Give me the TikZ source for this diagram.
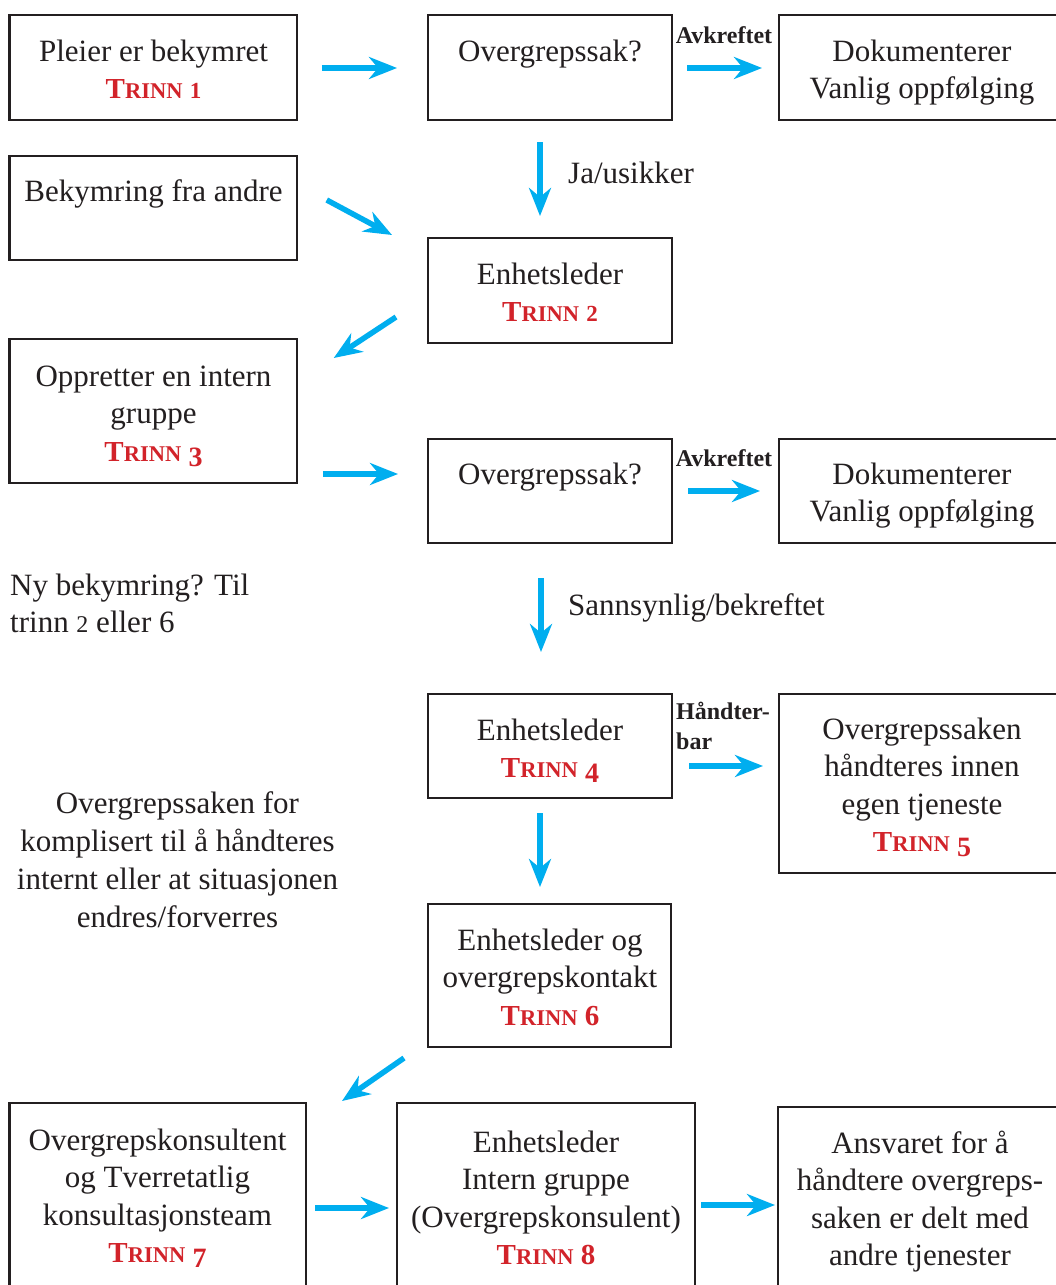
\documentclass[tikz,border=0pt]{standalone}
\usepackage{fontspec}
\setmainfont{Liberation Serif}
\usetikzlibrary{arrows.meta}
\definecolor{txtgray}{HTML}{231F20}
\definecolor{trinnred}{HTML}{D2232A}
\definecolor{arrblue}{HTML}{00AEEF}
\newcommand\fl{\rule{0pt}{26pt}}
% fake small caps "Trinn" with old-style-like digits
\newcommand\trinnword{\bfseries\fontsize{29}{37.5}\selectfont T\fontsize{22.5}{37.5}\selectfont RINN\fontsize{29}{37.5}\selectfont\ }
\newcommand\trinnS[1]{{\color{trinnred}\trinnword{\fontsize{23}{37.5}\selectfont #1}}}
\newcommand\trinnD[1]{{\color{trinnred}\trinnword\raisebox{-5pt}{\fontsize{28}{37.5}\selectfont #1}}}
\newcommand\trinnF[1]{{\color{trinnred}\trinnword{\fontsize{29}{37.5}\selectfont #1}}}
\tikzset{
  box/.style={draw=txtgray, line width=2.7pt, rectangle, inner sep=0pt, outer sep=0pt},
  txt/.style={text=txtgray, align=center, inner sep=0pt, anchor=north, font=\fontsize{31}{37.5}\selectfont},
  lbl/.style={text=txtgray, inner sep=0pt, font=\bfseries\fontsize{24}{30}\selectfont},
  arr/.style={draw=arrblue, line width=5.5pt, -{Stealth[length=28pt, width=22pt, inset=9pt]}}
}
\begin{document}
\begin{tikzpicture}[x=1pt,y=-1pt]
\clip (0,0) rectangle (1056,1285);
\fill[white] (0,0) rectangle (1056,1285);
% boxes
\node[box, minimum width=287.5, minimum height=105] (b1) at (153.25,67.5) {};
\node[box, minimum width=244, minimum height=105] (b2) at (550,67.5) {};
\node[box, minimum width=286, minimum height=105] (b3) at (922,67.5) {};
\node[box, minimum width=287.5, minimum height=104] (b4) at (153.25,208) {};
\node[box, minimum width=244, minimum height=105] (b5) at (550,290.5) {};
\node[box, minimum width=287.5, minimum height=144] (b6) at (153.25,411) {};
\node[box, minimum width=244, minimum height=104] (b7) at (550,491) {};
\node[box, minimum width=286, minimum height=104] (b8) at (922,491) {};
\node[box, minimum width=244, minimum height=104] (b9) at (550,746) {};
\node[box, minimum width=286, minimum height=179] (b10) at (922,783.5) {};
\node[box, minimum width=243, minimum height=143] (b11) at (549.5,975.5) {};
\node[box, minimum width=296.5, minimum height=197] (b12) at (157.75,1201.5) {};
\node[box, minimum width=298, minimum height=197] (b13) at (546,1201.5) {};
\node[box, minimum width=284, minimum height=193] (b14) at (920,1203.5) {};
% texts
\node[txt] (t1) at (153.5,35) {\fl Pleier er bekymret\\\trinnS{1}};
\node[txt] (t2) at (550,35) {\fl Overgrepssak?};
\node[txt] (t3) at (922,35) {\fl Dokumenterer\\Vanlig oppfølging};
\node[txt] (t4) at (153.5,175) {\fl Bekymring fra andre};
\node[txt] (t5) at (550,258) {\fl Enhetsleder\\\trinnS{2}};
\node[txt] (t6) at (153.5,360) {\fl Oppretter en intern\\gruppe\\\trinnD{3}};
\node[txt] (t7) at (550,458) {\fl Overgrepssak?};
\node[txt] (t8) at (922,458) {\fl Dokumenterer\\Vanlig oppfølging};
\node[txt] (t9) at (550,714) {\fl Enhetsleder\\\trinnD{4}};
\node[txt] (t10) at (922,713) {\fl Overgrepssaken\\håndteres innen\\egen tjeneste\\\trinnD{5}};
\node[txt] (t11) at (550,924) {\fl Enhetsleder og\\overgrepskontakt\\\trinnF{6}};
\node[txt] (t12) at (157.5,1124) {\fl Overgrepskonsultent\\og Tverretatlig\\konsultasjonsteam\\\trinnD{7}};
\node[txt] (t13) at (546,1126) {\fl Enhetsleder\\Intern gruppe\\(Overgrepskonsulent)\\\trinnF{8}};
\node[txt] (t14) at (920,1127) {\fl Ansvaret for å\\håndtere overgreps-\\saken er delt med\\andre tjenester};
\node[txt, align=left, anchor=north west] (ny) at (10,569) {\fl Ny bekymring? Til\\trinn {\fontsize{24}{37.5}\selectfont 2} eller 6};
\node[txt, font=\fontsize{31}{38}\selectfont] (komp) at (177.5,787) {\fl Overgrepssaken for\\komplisert til å håndteres\\internt eller at situasjonen\\endres/forverres};
% labels
\node[lbl, anchor=base] (l1) at (724,43) {Avkreftet};
\node[lbl, anchor=base] (l2) at (724,466) {Avkreftet};
\node[lbl, align=left, anchor=north west] (l3) at (676,699) {\rule{0pt}{20pt}Håndter-\\bar};
\node[txt, anchor=base west] (l4) at (568,183) {Ja/usikker};
\node[txt, anchor=base west] (l5) at (568,615) {Sannsynlig/bekreftet};
% arrows
\draw[arr] ([shift={(24.75,0.5)}]b1.east) -- ([shift={(-31,0.5)}]b2.west);
\draw[arr] ([shift={(15,0.5)}]b2.east) -- ([shift={(-17,0.5)}]b3.west);
\draw[arr] ([shift={(-10,22)}]b2.south) -- ([shift={(-10,-22)}]b5.north);
\draw[arr] ([shift={(29.75,-8)}]b4.east) -- ([shift={(-36,-55.5)}]b5.west);
\draw[arr] ([shift={(-32,26.5)}]b5.west) -- ([shift={(36.75,-53)}]b6.east);
\draw[arr] ([shift={(25.75,63)}]b6.east) -- ([shift={(-30,-17)}]b7.west);
\draw[arr] ([shift={(16,0)}]b7.east) -- ([shift={(-19,0)}]b8.west);
\draw[arr] ([shift={(-9,35)}]b7.south) -- ([shift={(-9,-42)}]b9.north);
\draw[arr] ([shift={(17,20)}]b9.east) -- ([shift={(-16,-17.5)}]b10.west);
\draw[arr] ([shift={(-10,15)}]b9.south) -- ([shift={(-9.5,-17)}]b11.north);
\draw[arr] ([shift={(-24,11)}]b11.south west) -- ([shift={(36,-2)}]b12.north east);
\draw[arr] ([shift={(9,6.5)}]b12.east) -- ([shift={(-8,6.5)}]b13.west);
\draw[arr] ([shift={(6,3.5)}]b13.east) -- ([shift={(-3,1.5)}]b14.west);
\end{tikzpicture}
\end{document}
